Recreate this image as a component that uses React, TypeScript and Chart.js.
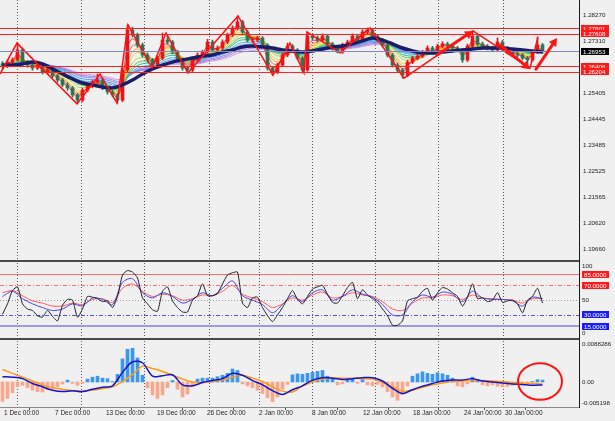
import React, { useEffect, useRef } from "react";
import { Chart, registerables } from "chart.js";
Chart.register(...registerables);

// ---------------- DATA ----------------
// bar index axis: one candle per index (0..108)
const firstOpen = 1.265;
const candleCloses = [
  1.2642, 1.2656, 1.2664, 1.2701, 1.2656, 1.2645, 1.2634, 1.2642, 1.262, 1.2627,
  1.2605, 1.259, 1.2572, 1.2561, 1.2535, 1.2516, 1.2553, 1.2568, 1.2583, 1.259,
  1.2561, 1.2546, 1.2535, 1.2516, 1.2627, 1.2774, 1.2756, 1.2719, 1.2682, 1.2664,
  1.2645, 1.2671, 1.2737, 1.273, 1.2693, 1.2664, 1.2634, 1.2627, 1.2664, 1.2682,
  1.2693, 1.273, 1.2701, 1.2708, 1.273, 1.2756, 1.2782, 1.2804, 1.2767, 1.2737,
  1.2737, 1.2745, 1.2719, 1.2634, 1.262, 1.2645, 1.2682, 1.2715, 1.2701, 1.2671,
  1.2627, 1.2752, 1.2745, 1.2737, 1.2752, 1.2723, 1.2708, 1.2693, 1.2719, 1.273,
  1.2752, 1.2737, 1.2767, 1.2774, 1.2752, 1.2737, 1.2719, 1.2682, 1.2645, 1.2627,
  1.2608, 1.2656, 1.2671, 1.2678, 1.2693, 1.2708, 1.2693, 1.2715, 1.2723, 1.2719,
  1.2708, 1.2701, 1.2664, 1.2715, 1.2752, 1.2723, 1.2715, 1.2708, 1.2701, 1.273,
  1.2708, 1.2693, 1.2686, 1.2682, 1.2671, 1.2664, 1.2693, 1.2719, 1.2695,
];
const candleHighs = [
  1.2658, 1.2665, 1.2672, 1.2726, 1.2708, 1.2662, 1.2653, 1.265, 1.2648, 1.2636,
  1.2633, 1.2611, 1.2597, 1.258, 1.2566, 1.2541, 1.256, 1.2575, 1.259, 1.2612,
  1.2596, 1.2567, 1.2552, 1.2541, 1.2635, 1.2793, 1.2785, 1.2763, 1.2726, 1.269,
  1.267, 1.2678, 1.2763, 1.275, 1.2736, 1.27, 1.267, 1.264, 1.2671, 1.269,
  1.27, 1.274, 1.2737, 1.2716, 1.2738, 1.2763, 1.279, 1.2826, 1.281, 1.2773,
  1.2746, 1.2752, 1.275, 1.2724, 1.264, 1.2652, 1.269, 1.2726, 1.2721, 1.2706,
  1.2676, 1.2767, 1.276, 1.2753, 1.276, 1.2758, 1.2729, 1.2713, 1.2726, 1.2737,
  1.276, 1.2758, 1.2775, 1.2782, 1.2779, 1.2758, 1.2743, 1.2725, 1.2688, 1.2652,
  1.2633, 1.2663, 1.2678, 1.2686, 1.27, 1.2716, 1.2714, 1.2722, 1.2731, 1.2729,
  1.2725, 1.2714, 1.2706, 1.2722, 1.2771, 1.2758, 1.273, 1.2721, 1.2714, 1.2745,
  1.2736, 1.2714, 1.2699, 1.2692, 1.2688, 1.2677, 1.27, 1.2748, 1.2725,
];
const candleLows = [
  1.263, 1.2636, 1.265, 1.266, 1.2648, 1.2637, 1.2626, 1.2628, 1.2612, 1.2614,
  1.2598, 1.2582, 1.2565, 1.2552, 1.2527, 1.2502, 1.251, 1.2546, 1.2561, 1.2577,
  1.2554, 1.2538, 1.2528, 1.2505, 1.251, 1.262, 1.2748, 1.271, 1.2675, 1.2655,
  1.2634, 1.264, 1.2665, 1.2722, 1.2686, 1.2656, 1.2626, 1.2616, 1.262, 1.2657,
  1.2675, 1.2688, 1.2694, 1.2695, 1.2702, 1.2724, 1.275, 1.2775, 1.276, 1.273,
  1.2728, 1.273, 1.2712, 1.2626, 1.2608, 1.2614, 1.264, 1.2676, 1.2694, 1.2664,
  1.2616, 1.2622, 1.2737, 1.273, 1.2731, 1.2716, 1.27, 1.269, 1.2688, 1.2712,
  1.2724, 1.273, 1.2731, 1.276, 1.2745, 1.273, 1.2712, 1.2675, 1.2638, 1.2618,
  1.2597, 1.2602, 1.265, 1.2665, 1.2672, 1.2687, 1.2686, 1.2688, 1.2708, 1.2712,
  1.2701, 1.2694, 1.2655, 1.2658, 1.2709, 1.2716, 1.2708, 1.2701, 1.2694, 1.2695,
  1.2701, 1.2686, 1.2679, 1.2675, 1.2664, 1.2634, 1.2658, 1.2687, 1.2688,
];
// slow moving average (navy), one value every 2 bars
const slowMA = [
  1.2645, 1.2645, 1.2649, 1.2656, 1.2649, 1.2631, 1.2612, 1.2594, 1.2579, 1.2572,
  1.2564, 1.2561, 1.2572, 1.259, 1.2612, 1.2631, 1.2645, 1.2656, 1.2664, 1.2671,
  1.2678, 1.2682, 1.2693, 1.2701, 1.2712, 1.2715, 1.2712, 1.2708, 1.2701, 1.2697,
  1.2693, 1.2697, 1.2704, 1.2712, 1.2715, 1.2723, 1.2734, 1.2745, 1.2737, 1.2723,
  1.2708, 1.2697, 1.269, 1.269, 1.2693, 1.2697, 1.2701, 1.2704, 1.2708, 1.2708,
  1.2708, 1.2704, 1.2701, 1.2697, 1.2693,
];
const rainbowPeriods = [2, 3, 4, 5, 7, 9, 11, 14, 17, 21, 25, 30];

const zigzagX = [-0.5, 2.9, 14.9, 19.5, 22.9, 25.1, 29.9, 32.7, 37.1, 47.1, 54.1, 57.5, 60.3, 60.9, 67.5, 73.5, 80.3, 94.1, 105.5, 107.1];
const zigzagY = [1.2612, 1.2726, 1.2502, 1.2612, 1.2505, 1.2793, 1.2634, 1.2763, 1.2616, 1.2826, 1.2608, 1.2726, 1.2616, 1.2767, 1.269, 1.2782, 1.2597, 1.2771, 1.2634, 1.2749];

const arrowFromX = [86.9, 99.5, 106.7];
const arrowFromY = [1.2682, 1.2719, 1.263];
const arrowToX = [94.1, 105.5, 110.9];
const arrowToY = [1.2771, 1.263, 1.2745];

const resistanceLevels = [1.27801, 1.27608];
const supportLevels = [1.26406, 1.26204];
const currentPrice = 1.26953;
const priceTicks = [1.2827, 1.2731, 1.25405, 1.24445, 1.23485, 1.22525, 1.21565, 1.2062, 1.1966];

// RSI (fast every bar, others every 2 bars)
const rsiFast = [
  31, 45, 63, 68, 45, 38, 36, 29, 27, 36, 28, 22, 43, 51, 50, 27, 38, 55, 54, 52,
  48, 49, 40, 55, 84, 90, 88, 80, 53, 45, 37, 35, 62, 68, 49, 40, 34, 34, 50, 56,
  72, 56, 56, 59, 72, 84, 87, 88, 46, 40, 53, 54, 40, 29, 21, 30, 40, 52, 63, 51,
  45, 55, 65, 68, 70, 58, 47, 46, 56, 67, 74, 52, 64, 57, 52, 47, 38, 29, 16, 16,
  22, 49, 52, 54, 62, 66, 50, 60, 67, 65, 60, 55, 42, 54, 72, 52, 53, 48, 50, 60,
  47, 49, 50, 45, 33, 50, 55, 66, 46,
];
const rsiMid = [
  55, 62, 52, 45, 40, 36, 38, 45, 42, 53, 51, 44, 74, 79, 60, 53, 60, 55, 46, 51,
  60, 56, 66, 76, 56, 50, 44, 33, 44, 56, 48, 60, 64, 50, 55, 64, 58, 54, 44, 30,
  30, 48, 57, 54, 61, 58, 48, 62, 53, 51, 51, 49, 42, 54, 52,
];
const rsiSlow = [
  60, 63, 56, 49, 46, 42, 42, 46, 44, 51, 52, 47, 66, 72, 62, 55, 58, 56, 50, 52,
  57, 56, 62, 70, 58, 53, 48, 40, 45, 53, 50, 57, 61, 53, 55, 60, 57, 55, 48, 38,
  36, 46, 53, 53, 57, 56, 51, 57, 53, 52, 51, 50, 46, 52, 52,
];
const rsiLevels = [85, 70, 50, 30, 15];
const rsiAxisLabels = [100, 50, 0];

// MACD
const macdHist = [
  -0.004, -0.0034, -0.0022, -0.001, -0.0007, -0.0012, -0.0017, -0.002, -0.0021, -0.0016,
  -0.0014, -0.001, -0.0004, 0.0004, -0.0003, -0.0007, -0.0003, 0.0006, 0.001, 0.0012,
  0.0008, 0.0007, 0.0001, 0.0016, 0.0048, 0.0068, 0.007, 0.005, 0.0014, -0.0012,
  -0.0027, -0.0034, -0.0027, -0.0012, 0.0003, -0.0015, -0.0031, -0.0025, -0.001, 0.0006,
  0.0008, 0.0008, 0.0008, 0.0011, 0.0014, 0.0018, 0.0027, 0.0024, -0.0004, -0.0008,
  -0.0012, -0.0017, -0.0024, -0.0033, -0.0041, -0.0031, -0.0015, -0.0005, 0.0015, 0.0017,
  0.0016, 0.0018, 0.002, 0.0022, 0.0024, 0.0012, 0.0006, -0.0006, -0.0004, 0.0004,
  0.0006, -0.0003, 0.0005, -0.0006, -0.0008, -0.0005, -0.001, -0.002, -0.0031, -0.0038,
  -0.0026, -0.0008, 0.0012, 0.0017, 0.0021, 0.0018, 0.0016, 0.0019, 0.0017, 0.0014,
  0.0008, -0.0008, -0.001, -0.0004, 0.001, 0.0004, -0.0006, -0.0008, -0.0006, -0.0009,
  -0.001, -0.0009, -0.0007, -0.0004, -0.0003, -0.0002, 0.0001, 0.0005, 0.0004,
];
const macdMain = [
  0.0011, 0.001, 0.0007, -0.0003, -0.001, -0.0017, -0.002, -0.0018, -0.002, -0.0015,
  -0.0011, -0.0008, 0.002, 0.0042, 0.004, 0.0012, 0.0013, 0.0015, -0.0006, -0.0008,
  -0.0001, 0.0003, 0.0007, 0.0018, 0.0014, 0.0003, -0.0006, -0.0018, -0.0026, -0.0016,
  -0.0008, 0.0004, 0.0009, 0.0008, 0.0005, 0.0007, 0.0009, 0.0009, 0.0002, -0.0013,
  -0.0024, -0.0016, -0.0009, -0.0003, 0.0002, 0.0004, 0.0004, 0.0007, 0.0002, 0.0,
  -0.0002, -0.0004, -0.0005, -0.0007, -0.0006,
];
const macdSignal = [
  0.0026, 0.0018, 0.001, 0.0002, -0.0006, -0.0012, -0.0015, -0.0018, -0.0019, -0.0017,
  -0.0014, -0.001, 0.0001, 0.0016, 0.0033, 0.0028, 0.0022, 0.0014, 0.0006, 0.0,
  -0.0001, 0.0001, 0.0004, 0.001, 0.0014, 0.0008, 0.0001, -0.001, -0.0019, -0.0021,
  -0.0008, 0.0, 0.0006, 0.0009, 0.0008, 0.0008, 0.0007, 0.0006, -0.0001, -0.001,
  -0.0019, -0.0017, -0.0011, -0.0006, -0.0002, 0.0001, 0.0002, 0.0003, 0.0003, 0.0002,
  0.0001, -0.0001, -0.0002, -0.0003, -0.0004,
];
const macdAxisLabels = ["0.0088286", "0.00", "-0.005198"];
const macdAxisValues = [0.0088286, 0, -0.005198];
const circleCenter = [107.5, 0.0001];
const circleRadius = [4.4, 0.0038];

// time axis
const gridTimes = [2.96, 15.7, 28.36, 41.3, 51.36, 61.84, 74.5, 87.16, 100.16];
const dateTickPos = [0.3, 10.5, 20.7, 30.9, 40.9, 51.3, 61.9, 72.1, 82.1, 92.3, 100.5];
const dateLabels = [
  "1 Dec 00:00", "7 Dec 00:00", "13 Dec 00:00", "19 Dec 00:00", "26 Dec 00:00",
  "2 Jan 00:00", "8 Jan 00:00", "12 Jan 00:00", "18 Jan 00:00", "24 Jan 00:00", "30 Jan 00:00",
];

// ---------------- STYLE ----------------
const BG = "#f0f0f0";
const FONT = "'Liberation Sans', Arial, sans-serif";
const X_MIN = -0.5;
const X_MAX = 115.3;
const AXIS_W = 36;
const RAINBOW = [
  "rgba(255,30,30,0.9)", "rgba(255,100,30,0.9)", "rgba(255,160,20,0.9)", "rgba(230,210,20,0.9)",
  "rgba(160,215,40,0.9)", "rgba(70,195,70,0.9)", "rgba(30,185,140,0.9)", "rgba(40,175,215,0.9)",
  "rgba(70,140,240,0.9)", "rgba(120,120,240,0.9)", "rgba(165,115,225,0.9)", "rgba(200,140,215,0.9)",
];
const RSI_STYLE = {
  85: { color: "#f07070", width: 1, dash: [] as number[], tag: "#ff1a1a" },
  70: { color: "#f07070", width: 1, dash: [4, 2, 1, 2], tag: "#ff1a1a" },
  50: { color: "#9a9a9a", width: 1, dash: [1, 2], tag: "" },
  30: { color: "#5050e0", width: 1, dash: [4, 2, 1, 2], tag: "#1a1aff" },
  15: { color: "#9a9ae0", width: 2, dash: [] as number[], tag: "#1a1aff" },
};

function emaSeries(values: number[], period: number, seed: number) {
  const k = 2 / (period + 1);
  let e = seed;
  return values.map((v) => (e = e + k * (v - e)));
}

function fixRightAxis(scale: any) {
  scale.width = AXIS_W;
  scale.paddingTop = 0;
  scale.paddingBottom = 0;
  scale.paddingLeft = 0;
  scale.paddingRight = 0;
}

function drawVGrid(chart: any) {
  const { ctx, chartArea, scales } = chart;
  ctx.save();
  ctx.strokeStyle = "#5a5a5a";
  ctx.lineWidth = 1;
  ctx.setLineDash([1, 2]);
  gridTimes.forEach((t) => {
    const px = Math.round(scales.x.getPixelForValue(t)) + 0.5;
    ctx.beginPath();
    ctx.moveTo(px, chartArea.top);
    ctx.lineTo(px, chartArea.bottom);
    ctx.stroke();
  });
  ctx.restore();
}

function hLine(chart: any, v: number, color: string, width: number, dash: number[]) {
  const { ctx, chartArea, scales } = chart;
  const py = Math.round(scales.y.getPixelForValue(v)) + (width % 2 ? 0.5 : 0);
  ctx.save();
  ctx.strokeStyle = color;
  ctx.lineWidth = width;
  ctx.setLineDash(dash);
  ctx.beginPath();
  ctx.moveTo(chartArea.left, py);
  ctx.lineTo(chartArea.right, py);
  ctx.stroke();
  ctx.restore();
}

function tag(ctx: any, x: number, y: number, text: string, bg: string, w = 28) {
  ctx.save();
  ctx.fillStyle = bg;
  ctx.fillRect(x, Math.round(y - 3.5), w, 7);
  ctx.fillStyle = "#ffffff";
  ctx.font = `6.2px ${FONT}`;
  ctx.textBaseline = "middle";
  ctx.textAlign = "left";
  ctx.fillText(text, x + 2, Math.round(y - 3.5) + 3.8);
  ctx.restore();
}

function axisText(ctx: any, x: number, y: number, text: string) {
  ctx.save();
  ctx.fillStyle = "#222";
  ctx.font = `6.2px ${FONT}`;
  ctx.textBaseline = "middle";
  ctx.textAlign = "left";
  ctx.fillText(text, x, y);
  ctx.restore();
}

function separator(chart: any) {
  const { ctx, chartArea } = chart;
  ctx.save();
  ctx.fillStyle = "#4a4a4a";
  ctx.fillRect(chartArea.left, 0, chartArea.right - chartArea.left, 2);
  ctx.restore();
}

function drawArrow(ctx: any, x1: number, y1: number, x2: number, y2: number) {
  const ang = Math.atan2(y2 - y1, x2 - x1);
  const head = 8;
  const bx = x2 - head * Math.cos(ang);
  const by = y2 - head * Math.sin(ang);
  ctx.save();
  ctx.strokeStyle = "#ff1414";
  ctx.fillStyle = "#ff1414";
  ctx.lineWidth = 3;
  ctx.lineCap = "round";
  ctx.beginPath();
  ctx.moveTo(x1, y1);
  ctx.lineTo(bx, by);
  ctx.stroke();
  ctx.beginPath();
  ctx.moveTo(x2, y2);
  ctx.lineTo(bx + 4.5 * Math.cos(ang + Math.PI / 2), by + 4.5 * Math.sin(ang + Math.PI / 2));
  ctx.lineTo(bx - 4.5 * Math.cos(ang + Math.PI / 2), by - 4.5 * Math.sin(ang + Math.PI / 2));
  ctx.closePath();
  ctx.fill();
  ctx.restore();
}

const baseOpts = {
  responsive: false,
  animation: false as const,
  devicePixelRatio: 1,
  events: [] as any[],
  layout: { padding: 0 },
  plugins: { legend: { display: false }, tooltip: { enabled: false } },
};

const rightAxis = (min: number, max: number) => ({
  type: "linear" as const,
  position: "right" as const,
  min,
  max,
  grid: { display: false, drawTicks: false },
  border: { display: true, color: "#1a1a1a", width: 1, dash: [1, 2] },
  afterFit: fixRightAxis,
});

export default function App() {
  const mainRef = useRef<HTMLCanvasElement>(null);
  const rsiRef = useRef<HTMLCanvasElement>(null);
  const macdRef = useRef<HTMLCanvasElement>(null);

  useEffect(() => {
    const charts: Chart[] = [];
    const idx = candleCloses.map((_, i) => i);
    const opens = candleCloses.map((c, i) => (i === 0 ? firstOpen : candleCloses[i - 1]));
    const candleColor = candleCloses.map((c, i) => (c >= opens[i] ? "#e8141c" : "#2f7356"));

    const rainbowSets = rainbowPeriods.map((p, j) => ({
      type: "line" as const,
      data: emaSeries(candleCloses, p, slowMA[0]).map((v, i) => ({ x: i, y: v })),
      borderColor: RAINBOW[j],
      borderWidth: 1,
      pointRadius: 0,
      tension: 0.3,
      order: 10,
    }));

    // ---------- main price chart ----------
    const mainPlugin = {
      id: "mainDeco",
      beforeDatasetsDraw(chart: any) {
        drawVGrid(chart);
      },
      afterDatasetsDraw(chart: any) {
        const { ctx, scales } = chart;
        hLine(chart, currentPrice, "#8088c0", 1, []);
        [...resistanceLevels, ...supportLevels].forEach((v) => hLine(chart, v, "#ff2020", 1, []));
        arrowFromX.forEach((_, k) =>
          drawArrow(
            ctx,
            scales.x.getPixelForValue(arrowFromX[k]),
            scales.y.getPixelForValue(arrowFromY[k]),
            scales.x.getPixelForValue(arrowToX[k]),
            scales.y.getPixelForValue(arrowToY[k])
          )
        );
      },
      afterDraw(chart: any) {
        const { ctx, chartArea, scales } = chart;
        const x0 = chartArea.right + 2;
        [...resistanceLevels, ...supportLevels].forEach((v) =>
          tag(ctx, x0, scales.y.getPixelForValue(v), v.toFixed(5), "#ff1a1a")
        );
        tag(ctx, x0, scales.y.getPixelForValue(currentPrice), currentPrice.toFixed(5), "#000000");
      },
    };

    charts.push(
      new Chart(mainRef.current!, {
        type: "bar",
        data: {
          datasets: [
            ...rainbowSets,
            {
              type: "bar" as const,
              data: idx.map((i) => ({ x: i, y: [candleLows[i], candleHighs[i]] })),
              backgroundColor: candleColor,
              barThickness: 1,
              grouped: false,
              order: 6,
            } as any,
            {
              type: "bar" as const,
              data: idx.map((i) => ({ x: i, y: [opens[i], candleCloses[i]] })),
              backgroundColor: candleColor,
              barThickness: 3,
              minBarLength: 1,
              grouped: false,
              order: 5,
            } as any,
            {
              type: "line" as const,
              data: slowMA.map((v, k) => ({ x: k * 2, y: v })),
              borderColor: "#1c1c6a",
              borderWidth: 3.5,
              pointRadius: 0,
              tension: 0.3,
              order: 2,
            },
            {
              type: "line" as const,
              data: zigzagX.map((x, k) => ({ x, y: zigzagY[k] })),
              borderColor: "#ff1010",
              borderWidth: 1.5,
              pointRadius: 0,
              tension: 0,
              order: 1,
            },
          ],
        },
        options: {
          ...baseOpts,
          scales: {
            x: { type: "linear", min: X_MIN, max: X_MAX, offset: false, display: false },
            y: {
              ...rightAxis(1.19266, 1.28849),
              ticks: {
                autoSkip: false,
                padding: 4,
                color: "#222",
                font: { family: FONT, size: 6.2 },
                callback: (v: any) => Number(v).toFixed(5),
              },
              afterBuildTicks: (s: any) => {
                s.ticks = priceTicks.map((v) => ({ value: v }));
              },
            },
          },
        } as any,
        plugins: [mainPlugin],
      })
    );

    // ---------- RSI chart ----------
    const rsiPlugin = {
      id: "rsiDeco",
      beforeDatasetsDraw(chart: any) {
        drawVGrid(chart);
        rsiLevels.forEach((lv) => {
          const st = (RSI_STYLE as any)[lv];
          hLine(chart, lv, st.color, st.width, st.dash);
        });
      },
      afterDraw(chart: any) {
        const { ctx, chartArea, scales } = chart;
        separator(chart);
        const x0 = chartArea.right + 3;
        rsiLevels.forEach((lv) => {
          const st = (RSI_STYLE as any)[lv];
          if (st.tag) tag(ctx, x0, scales.y.getPixelForValue(lv), lv.toFixed(4), st.tag, 27);
        });
        rsiAxisLabels.forEach((lv) => {
          const py = scales.y.getPixelForValue(lv) + (lv === 100 ? 3 : lv === 0 ? -4 : 0);
          axisText(ctx, chartArea.right + 3, py, String(lv));
        });
      },
    };

    charts.push(
      new Chart(rsiRef.current!, {
        type: "line",
        data: {
          datasets: [
            {
              data: rsiSlow.map((v, k) => ({ x: k * 2, y: v })),
              borderColor: "#ff5a5a",
              borderWidth: 1,
              pointRadius: 0,
              tension: 0.3,
              order: 3,
            },
            {
              data: rsiMid.map((v, k) => ({ x: k * 2, y: v })),
              borderColor: "#4646e6",
              borderWidth: 1,
              pointRadius: 0,
              tension: 0.3,
              order: 2,
            },
            {
              data: rsiFast.map((v, i) => ({ x: i, y: v })),
              borderColor: "#202020",
              borderWidth: 1,
              pointRadius: 0,
              tension: 0.2,
              order: 1,
            },
          ],
        },
        options: {
          ...baseOpts,
          scales: {
            x: { type: "linear", min: X_MIN, max: X_MAX, offset: false, display: false },
            y: { ...rightAxis(-1.2, 104.3), ticks: { display: false } },
          },
        } as any,
        plugins: [rsiPlugin],
      })
    );

    // ---------- MACD chart ----------
    const macdPlugin = {
      id: "macdDeco",
      beforeDatasetsDraw(chart: any) {
        drawVGrid(chart);
      },
      afterDraw(chart: any) {
        const { ctx, chartArea, scales } = chart;
        separator(chart);
        macdAxisValues.forEach((v, k) => {
          const py = scales.y.getPixelForValue(v) + (k === 0 ? 4.5 : k === 2 ? -4 : 0);
          axisText(ctx, chartArea.right + 3, py, macdAxisLabels[k]);
        });
        const cx = scales.x.getPixelForValue(circleCenter[0]);
        const cy = scales.y.getPixelForValue(circleCenter[1]);
        const rx = Math.abs(scales.x.getPixelForValue(circleCenter[0] + circleRadius[0]) - cx);
        const ry = Math.abs(scales.y.getPixelForValue(circleCenter[1] + circleRadius[1]) - cy);
        ctx.save();
        ctx.strokeStyle = "#ff1414";
        ctx.lineWidth = 2;
        ctx.beginPath();
        ctx.ellipse(cx, cy, rx, ry, 0, 0, Math.PI * 2);
        ctx.stroke();
        ctx.restore();
      },
    };

    charts.push(
      new Chart(macdRef.current!, {
        type: "bar",
        data: {
          datasets: [
            {
              type: "bar" as const,
              data: macdHist.map((v, i) => ({ x: i, y: v })),
              backgroundColor: macdHist.map((v) => (v >= 0 ? "#3b96ee" : "#f7a88c")),
              barThickness: 3,
              grouped: false,
              order: 3,
            } as any,
            {
              type: "line" as const,
              data: macdSignal.map((v, k) => ({ x: k * 2, y: v })),
              borderColor: "#ff9a1a",
              borderWidth: 1.5,
              pointRadius: 0,
              tension: 0.3,
              order: 2,
            },
            {
              type: "line" as const,
              data: macdMain.map((v, k) => ({ x: k * 2, y: v })),
              borderColor: "#1414c8",
              borderWidth: 1.5,
              pointRadius: 0,
              tension: 0.3,
              order: 1,
            },
          ],
        },
        options: {
          ...baseOpts,
          scales: {
            x: {
              type: "linear",
              min: X_MIN,
              max: X_MAX,
              offset: false,
              position: "bottom",
              grid: { display: true, drawOnChartArea: false, drawTicks: true, tickLength: 3, color: "#555" },
              border: { display: true, color: "#8a8a8a", width: 1 },
              ticks: {
                autoSkip: false,
                maxRotation: 0,
                minRotation: 0,
                align: "start",
                padding: -1,
                color: "#222",
                font: { family: FONT, size: 6.5 },
                callback: (_v: any, i: number) => dateLabels[i] ?? "",
              },
              afterBuildTicks: (s: any) => {
                s.ticks = dateTickPos.map((v) => ({ value: v }));
              },
              afterFit: (s: any) => {
                s.height = 14;
                s.paddingLeft = 0;
                s.paddingRight = 0;
              },
            },
            y: { ...rightAxis(-0.005198, 0.009148), ticks: { display: false } },
          },
        } as any,
        plugins: [macdPlugin],
      })
    );

    return () => charts.forEach((c) => c.destroy());
  }, []);

  return (
    <div style={{ position: "absolute", left: 0, top: 0, width: 615, height: 421, background: BG, overflow: "hidden" }}>
      <canvas ref={mainRef} width={615} height={260} style={{ position: "absolute", left: 0, top: 0, width: 615, height: 260 }} />
      <canvas ref={rsiRef} width={615} height={78} style={{ position: "absolute", left: 0, top: 260, width: 615, height: 78 }} />
      <canvas ref={macdRef} width={615} height={83} style={{ position: "absolute", left: 0, top: 338, width: 615, height: 83 }} />
    </div>
  );
}
